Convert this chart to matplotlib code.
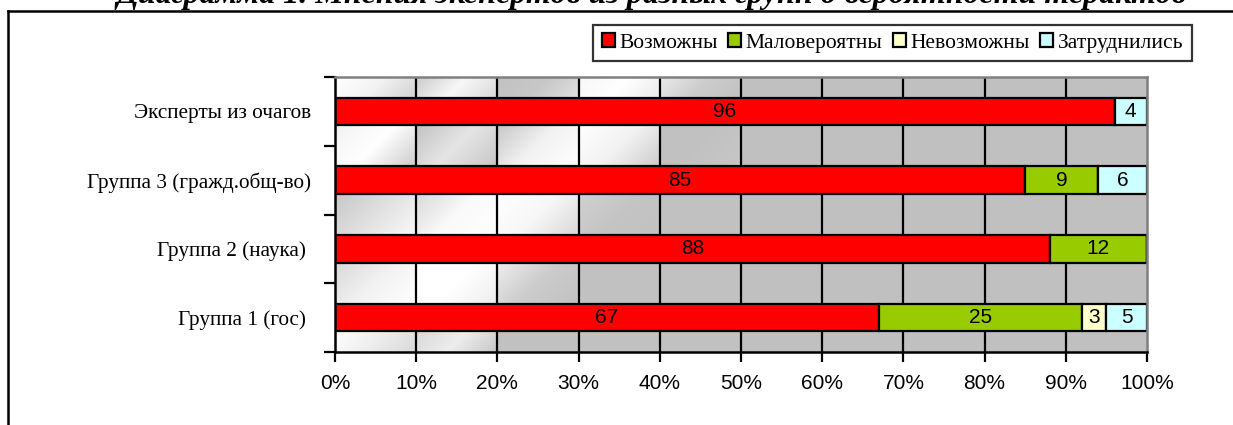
import numpy as np
import matplotlib
matplotlib.use("Agg")
import matplotlib.pyplot as plt
from matplotlib.patches import Patch
from matplotlib.lines import Line2D

# --- data ---------------------------------------------------------------
groups = ["Группа 1 (гос) ", "Группа 2 (наука) ", "Группа 3 (гражд.общ-во)", "Эксперты из очагов"]
series = ["Возможны", "Маловероятны", "Невозможны", "Затруднились"]
possible = [67, 88, 85, 96]
unlikely = [25, 12, 9, 0]
impossible = [3, 0, 0, 0]
hard_to_say = [5, 0, 6, 4]
x_ticks = [0, 10, 20, 30, 40, 50, 60, 70, 80, 90, 100]
x_tick_labels = [f"{t}%" for t in x_ticks]
title = "Диаграмма 1. Мнения экспертов из разных групп о вероятности терактов"

colors = ["#FF0000", "#99CC00", "#FFFFCC", "#CCFFFF"]
serif = ["Liberation Serif", "DejaVu Serif"]
sans = ["Liberation Sans", "DejaVu Sans"]

W, H, DPI = 1233, 425, 100
fig = plt.figure(figsize=(W / DPI, H / DPI), dpi=DPI)
fig.patch.set_facecolor("white")

left, right, top, bottom = 335, 1147, 77, 352
ax = fig.add_axes([left / W, 1 - bottom / H, (right - left) / W, (bottom - top) / H])
ax.set_facecolor("#C0C0C0")

bar_h = 0.4
y = np.arange(len(groups))

# --- shaded background cells (diagonal sheen in the left part) ---------
# strips from top to bottom, columns 0..4 : (start, middle, end) brightness
sheen = [
    [(1.0, 0.95, 0.82), (0.80, 0.97, 0.85), (0.76, 0.78, 0.88), (0.97, 1.0, 0.92), (0.92, 0.80, 0.76)],
    [(0.95, 1.0, 0.80), (0.76, 0.90, 0.78), (0.78, 0.95, 1.0), (1.0, 0.95, 0.80), (0.76, 0.76, 0.78)],
    [(0.78, 0.88, 0.98), (0.85, 0.98, 1.0), (1.0, 0.97, 0.85), (0.82, 0.77, 0.76), (0.76, 0.76, 0.76)],
    [(0.85, 0.95, 1.0), (1.0, 1.0, 0.93), (0.93, 0.80, 0.76), (0.76, 0.76, 0.76), (0.76, 0.76, 0.76)],
    [(1.0, 0.93, 0.85), (0.85, 0.93, 0.78), (0.76, 0.76, 0.76), (0.76, 0.76, 0.76), (0.76, 0.76, 0.76)],
]
n = len(groups)
strip_edges = [(n - 1 + bar_h / 2, n - 0.5)]
for i in range(n - 1, 0, -1):
    strip_edges.append((i - 1 + bar_h / 2, i - bar_h / 2))
strip_edges.append((-0.5, -bar_h / 2))

gx, gy = np.meshgrid(np.linspace(0, 1, 60), np.linspace(0, 1, 40))
for s, (y0, y1) in enumerate(strip_edges):
    h_px = (y1 - y0) / n * (bottom - top)
    w_px = (right - left) / 10
    u = (gx * w_px + gy * h_px) / (w_px + h_px)
    for c, (a, b, e) in enumerate(sheen[s]):
        v = np.interp(u, [0, 0.5, 1], [a, b, e])
        img = np.dstack([v, v, v])
        ax.imshow(img, extent=(c * 10, c * 10 + 10, y0, y1), origin="upper",
                  aspect="auto", interpolation="bilinear", zorder=0.5)

# --- gridlines ----------------------------------------------------------
for t in x_ticks[1:-1]:
    ax.axvline(t, color="black", lw=1.6, zorder=1)

# --- stacked bars -------------------------------------------------------
left_acc = np.zeros(n)
for vals, col in zip([possible, unlikely, impossible, hard_to_say], colors):
    vals = np.array(vals, dtype=float)
    bars = ax.barh(y, vals, left=left_acc, height=bar_h, color=col,
                   edgecolor="black", linewidth=1.6, zorder=2)
    for rect, v in zip(bars, vals):
        if v > 0:
            ax.text(rect.get_x() + rect.get_width() / 2, rect.get_y() + rect.get_height() / 2,
                    f"{v:g}", ha="center", va="center", fontsize=15,
                    family=sans, color="black", zorder=3)
    left_acc += vals

ax.set_xlim(0, 100)
ax.set_ylim(-0.5, n - 0.5)

# --- axes styling -------------------------------------------------------
ax.set_xticks(x_ticks)
ax.set_xticklabels(x_tick_labels, family=sans, fontsize=15)
ax.tick_params(axis="x", direction="out", length=7, width=1.6, pad=9, color="black")
ax.set_yticks(np.arange(-0.5, n, 1.0))
ax.set_yticklabels([])
ax.tick_params(axis="y", which="major", direction="out", length=8, width=1.6)
ax.set_yticks(y, minor=True)
ax.set_yticklabels(groups, minor=True, family=serif, fontsize=15.3)
ax.tick_params(axis="y", which="minor", length=0, pad=17)

for side in ("left", "bottom"):
    ax.spines[side].set_color("black")
    ax.spines[side].set_linewidth(1.8)
for side in ("top", "right"):
    ax.spines[side].set_color("#808080")
    ax.spines[side].set_linewidth(1.8)

# --- legend -------------------------------------------------------------
handles = [Patch(facecolor=c, edgecolor="black", linewidth=1.6) for c in colors]
leg = fig.legend(handles, series, loc="center", bbox_to_anchor=(892.5 / W, 1 - 43 / H),
                 ncol=4, frameon=True, fancybox=False, shadow=False,
                 prop={"family": serif, "size": 15.5},
                 handlelength=0.6, handleheight=0.6, handletextpad=0.2,
                 columnspacing=0.5, borderpad=0.4, borderaxespad=0)
leg.get_frame().set_edgecolor("black")
leg.get_frame().set_linewidth(1.6)

# --- title and outer frame ---------------------------------------------
fig.text(651 / W, 1 - 3 / H, title, ha="center", va="baseline",
         family=serif, fontsize=23, fontweight="bold", style="italic")
fig.add_artist(Line2D([8 / W, 1.0], [1 - 11 / H, 1 - 11 / H], color="black", lw=1.8,
                      transform=fig.transFigure))
fig.add_artist(Line2D([8 / W, 8 / W], [0, 1 - 11 / H], color="black", lw=1.8,
                      transform=fig.transFigure))

fig.savefig("out.png", dpi=DPI)
